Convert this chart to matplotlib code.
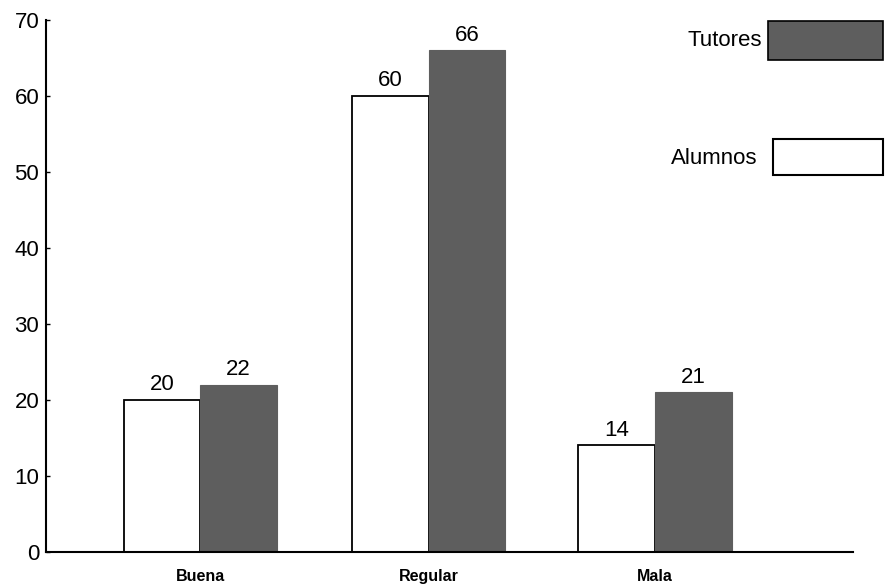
import matplotlib
matplotlib.use("Agg")
import matplotlib.pyplot as plt
from matplotlib.patches import Rectangle
import numpy as np

plt.rcParams["font.family"] = ["Liberation Sans", "DejaVu Sans"]

categories = ["Buena", "Regular", "Mala"]
alumnos = [20, 60, 14]
tutores = [22, 66, 21]
y_ticks = [0, 10, 20, 30, 40, 50, 60, 70]

DARK = "#5e5e5e"
width = 0.34

fig = plt.figure(figsize=(8.86, 5.84), dpi=100)
ax = fig.add_axes([0.052, 0.055, 0.911, 0.911])

x = np.array([0, 1.015, 2.02])
ax.bar(x - width / 2, alumnos, width, color="white", edgecolor="black", linewidth=1.3)
ax.bar(x + width / 2, tutores, width, color=DARK, edgecolor=DARK, linewidth=0.8)

for xi, a, t in zip(x, alumnos, tutores):
    ax.text(xi - width / 2, a + 0.6, str(a), ha="center", va="bottom", fontsize=16)
    ax.text(xi + width / 2, t + 0.6, str(t), ha="center", va="bottom", fontsize=16)

ax.set_xlim(-0.684, 2.9)
ax.set_ylim(0, 70)
ax.set_yticks(y_ticks)
ax.tick_params(axis="y", direction="in", length=3, width=1, labelsize=16, pad=5)
ax.set_xticks([])
for xi, name in zip(x, categories):
    ax.text(xi, -2.2, name, ha="center", va="top", fontsize=11.5, fontweight="bold",
            family=["Liberation Sans Narrow", "Liberation Sans", "DejaVu Sans"])

ax.spines["top"].set_visible(False)
ax.spines["right"].set_visible(False)
ax.spines["left"].set_linewidth(1.5)
ax.spines["bottom"].set_linewidth(1.5)

# legend drawn by hand: labels sit left of their boxes
W, H = 886, 584
def fig_box(x0, y0, x1, y1, **kw):
    fig.patches.append(Rectangle((x0 / W, 1 - y1 / H), (x1 - x0) / W, (y1 - y0) / H,
                                 transform=fig.transFigure, **kw))

fig_box(768, 21, 883, 60, facecolor=DARK, edgecolor="black", linewidth=1.2)
fig.text(762 / W, 1 - 41 / H, "Tutores", ha="right", va="center", fontsize=16)
fig_box(773, 139, 883, 175, facecolor="white", edgecolor="black", linewidth=1.5)
fig.text(757 / W, 1 - 159 / H, "Alumnos", ha="right", va="center", fontsize=16)

fig.savefig("out.png", dpi=100)
